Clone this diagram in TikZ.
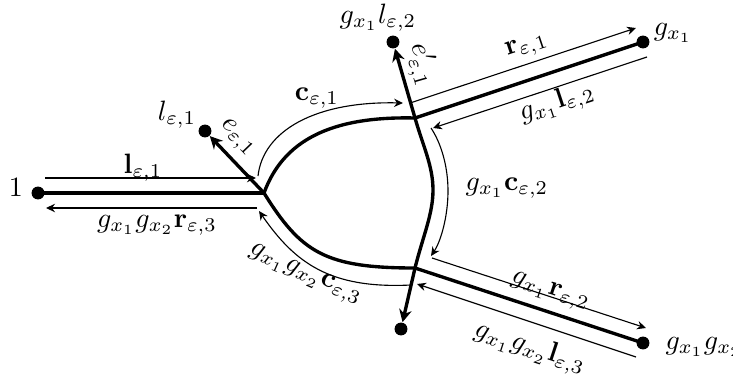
\documentclass[tikz,border=0pt]{standalone}
\usepackage{amsmath}
\usetikzlibrary{arrows.meta}
\begin{document}
\begin{tikzpicture}[x=0.357pt,y=0.357pt,
  thickline/.style={line width=1.2pt},
  thinarrow/.style={line width=0.4pt,-{Stealth[length=3.2pt,width=3pt]}},
  thickarrow/.style={line width=1.2pt,-{Stealth[length=4.5pt,width=4.5pt]}},
  dot/.style={circle,fill,inner sep=0pt,minimum size=4.6pt}]
\useasboundingbox (0,0) rectangle (733,381);
% vertices
\coordinate (A) at (264,188);
\coordinate (B) at (415,263);
\coordinate (C) at (415,113);
\coordinate (M) at (433,191);
\node[dot] (O) at (38,188) {};
\node[dot] (L1) at (205,250) {};
\node[dot] (L2) at (393,339) {};
\node[dot] (G1) at (643,339) {};
\node[dot] (G12) at (643,38) {};
\node[dot] (D) at (401,52) {};
% thick graph
\draw[thickline] (O.center) -- (A);
\draw[thickline] (A) .. controls (283,240) and (330,265) .. (B);
\draw[thickline] (A) .. controls (301,128.6) and (325,113) .. (C);
\draw[thickline] (B) .. controls (423,235) and (433,215) .. (M)
                     .. controls (433,167) and (423,145) .. (C);
\draw[thickline] (B) -- (G1.center);
\draw[thickline] (C) -- (G12.center);
\draw[thickarrow] (A) -- (L1);
\draw[thickarrow] (B) -- (L2);
\draw[thickarrow] (C) -- (D);
% thin path coordinates
\coordinate (p1) at (45,203);
\coordinate (p2) at (256,203);
\coordinate (p3) at (258,205);
\coordinate (p4) at (403,278);
\coordinate (p5) at (410,278);
\coordinate (p6) at (636,353);
\coordinate (p7) at (647,324);
\coordinate (p8) at (433,253);
\coordinate (p9) at (431,253);
\coordinate (pm) at (448,190);
\coordinate (p10) at (431,125);
\coordinate (p11) at (432,123);
\coordinate (p12) at (646,53);
\coordinate (p13) at (636,24);
\coordinate (p14) at (417,97);
\coordinate (p15) at (411,96);
\coordinate (p16) at (259,170);
\coordinate (p17) at (257,173);
\coordinate (p18) at (46,173);
% thin arrows
\draw[thinarrow] (p1) -- (p2);
\draw[thinarrow] (p3) .. controls (263,250) and (315,280) .. (p4);
\draw[thinarrow] (p5) -- (p6);
\draw[thinarrow] (p7) -- (p8);
\draw[thinarrow] (p9) .. controls (441,238) and (448,215) .. (pm)
                      .. controls (448,165) and (441,140) .. (p10);
\draw[thinarrow] (p11) -- (p12);
\draw[thinarrow] (p13) -- (p14);
\draw[thinarrow] (p15) .. controls (330,92) and (295,118) .. (p16);
\draw[thinarrow] (p17) -- (p18);
% labels
\node (t1) at (16,194) {$1$};
\node (t2) at (143,213) {$\mathbf{l}_{\varepsilon,1}$};
\node (t3) at (157,156) {$g_{x_1}g_{x_2}\mathbf{r}_{\varepsilon,3}$};
\node (t4) at (177,266) {$l_{\varepsilon,1}$};
\node[rotate=-46] (t5) at (237,243) {$e_{\varepsilon,1}$};
\node (t6) at (317,283) {$\mathbf{c}_{\varepsilon,1}$};
\node (t7) at (378,363) {$g_{x_1}l_{\varepsilon,2}$};
\node[rotate=-74] (t8) at (422,316) {$e'_{\varepsilon,1}$};
\node[rotate=18.4] (t9) at (527,334) {$\mathbf{r}_{\varepsilon,1}$};
\node (t10) at (673,348) {$g_{x_1}$};
\node[rotate=18.4] (t11) at (557,278) {$g_{x_1}\mathbf{l}_{\varepsilon,2}$};
\node (t12) at (507,193) {$g_{x_1}\mathbf{c}_{\varepsilon,2}$};
\node[rotate=-18.2] (t13) at (550,89) {$g_{x_1}\mathbf{r}_{\varepsilon,2}$};
\node[anchor=west,inner sep=0pt] (t14) at (665,34) {$g_{x_1}g_{x_2}$};
\node[rotate=-18.2] (t15) at (530,33) {$g_{x_1}g_{x_2}\mathbf{l}_{\varepsilon,3}$};
\node[rotate=-24] (t16) at (305,106) {$g_{x_1}g_{x_2}\mathbf{c}_{\varepsilon,3}$};
\end{tikzpicture}
\end{document}
